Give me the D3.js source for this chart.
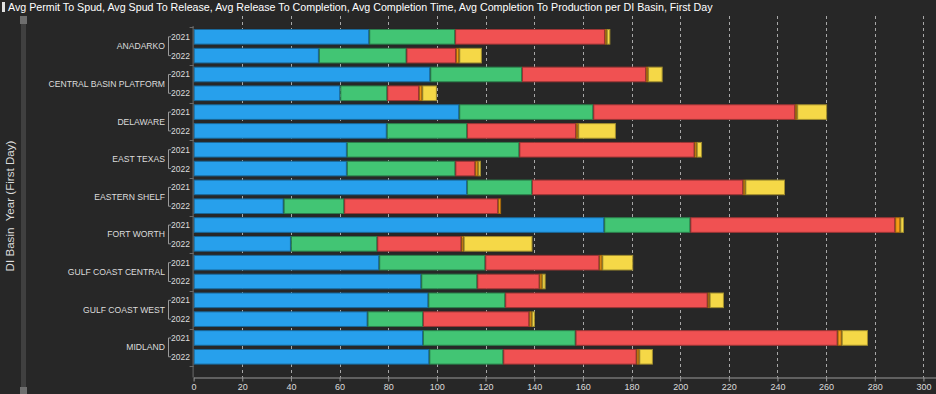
<!DOCTYPE html>
<html><head><meta charset="utf-8">
<script src="https://cdn.jsdelivr.net/npm/d3@7/dist/d3.min.js"></script>
<style>
html,body{margin:0;padding:0;background:#272727;}
svg{display:block;font-family:"Liberation Sans",Arial,sans-serif;}
</style></head>
<body><svg id="chart" width="936" height="394"></svg>
<script>
// ---- data ----
const basins = ["ANADARKO","CENTRAL BASIN PLATFORM","DELAWARE","EAST TEXAS","EASTERN SHELF","FORT WORTH","GULF COAST CENTRAL","GULF COAST WEST","MIDLAND"];
const years = ["2021","2022"];
const seriesNames = ["Avg Permit To Spud","Avg Spud To Release","Avg Release To Completion","Avg Completion Time","Avg Completion To Production"];
// values in row order: basin x year (2021, 2022)
const permitToSpud          = [72.2,51.5, 97.3,60.3, 109.2,79.4, 63.0,63.0, 112.4,37.0, 168.8,40.0, 76.3,93.6, 96.5,71.5, 94.3,96.9];
const spudToRelease         = [35.3,36.0, 37.7,19.3, 55.1,33.0, 70.9,44.6, 26.7,24.9, 35.4,35.5, 43.6,23.0, 31.6,22.8, 62.7,30.4];
const releaseToCompletion   = [61.6,20.4, 51.0,13.1, 83.0,44.8, 72.0,8.2, 86.8,63.3, 84.2,34.6, 46.9,25.6, 83.2,43.7, 107.7,54.8];
const completionTime        = [0.7,1.3, 0.8,1.3, 0.8,0.9, 0.9,1.2, 0.9,1.2, 2.1,0.9, 1.2,1.1, 0.8,1.0, 1.7,1.1];
const completionToProduction= [1.5,9.3, 6.0,6.0, 12.3,15.5, 2.2,1.1, 16.3,0.0, 1.5,28.3, 12.7,1.4, 5.9,1.3, 10.8,5.6];
const xTicks = [0,20,40,60,80,100,120,140,160,180,200,220,240,260,280,300];
const colors = ["#27a0ec","#42c574","#f05152","#f59c16","#f5d847"];
const title = "Avg Permit To Spud, Avg Spud To Release, Avg Release To Completion, Avg Completion Time, Avg Completion To Production per DI Basin, First Day";
const yTitle = "DI Basin  Year (First Day)";

(function(){
// ---- build table ----
const rows = [];
basins.forEach((b,i)=>years.forEach((yr,j)=>{
  const k=i*2+j;
  rows.push({key:b+"|"+yr, basin:b, year:yr,
    s0:permitToSpud[k], s1:spudToRelease[k], s2:releaseToCompletion[k], s3:completionTime[k], s4:completionToProduction[k]});
}));
const keys=["s0","s1","s2","s3","s4"];
const stacked = d3.stack().keys(keys)(rows);

const svg = d3.select("#chart");
const pLeft=193.6, pRight=935.6, pTop=27.4, pBottom=366.2, axisY=377.5;
const x = d3.scaleLinear().domain([0,305]).range([pLeft,pRight]);
const y = d3.scaleBand().domain(rows.map(r=>r.key)).range([pTop,pBottom]).paddingInner(0.17).paddingOuter(0.085);

// title
svg.append("rect").attr("x",2).attr("y",2).attr("width",3).attr("height",10).attr("fill","#e0e0e0");
svg.append("text").attr("x",8).attr("y",11).attr("fill","#ffffff").attr("font-size",10.7).text(title);

// scrollbar
svg.append("rect").attr("x",21).attr("y",16).attr("width",5).attr("height",378).attr("fill","#404040");
svg.append("rect").attr("x",20).attr("y",16).attr("width",7).attr("height",8).attr("fill","#6e6e6e");
svg.append("rect").attr("x",20).attr("y",387).attr("width",7).attr("height",7).attr("fill","#6e6e6e");

// y title
svg.append("text").attr("transform","translate(13.5,206) rotate(-90)").attr("text-anchor","middle")
  .attr("fill","#dcdcdc").attr("font-size",11.6).style("white-space","pre").text(yTitle);

// gridlines
svg.append("g").selectAll("line").data(xTicks.filter(t=>t>0)).join("line")
  .attr("x1",d=>Math.round(x(d))+0.5).attr("x2",d=>Math.round(x(d))+0.5)
  .attr("y1",16).attr("y2",axisY)
  .attr("stroke","#a8a8a8").attr("stroke-dasharray","3,3").attr("stroke-width",1);

// bars
svg.append("g").selectAll("g").data(stacked).join("g")
  .attr("fill",(d,i)=>colors[i])
  .attr("stroke",(d,i)=>d3.color(colors[i]).darker(1.2))
  .selectAll("rect").data(d=>d.filter(p=>p[1]-p[0]>0)).join("rect")
  .attr("x",d=>x(d[0])+0.5).attr("width",d=>Math.max(0,x(d[1])-x(d[0])-1))
  .attr("y",d=>y(d.data.key)+0.5).attr("height",y.bandwidth()-1)
  .attr("stroke-width",1);

// x axis
const xa = svg.append("g").attr("transform",`translate(0,${axisY})`)
  .call(d3.axisBottom(x).tickValues(xTicks).tickSize(4).tickSizeOuter(0).tickFormat(d3.format("d")));
xa.select(".domain").attr("stroke","#9a9a9a");
xa.selectAll(".tick line").attr("stroke","#9a9a9a");
xa.selectAll("text").attr("fill","#dcdcdc").attr("font-size",9).attr("font-family","Liberation Sans, Arial, sans-serif").attr("dy","0.6em");

// y axis line
svg.append("line").attr("x1",pLeft-0.5).attr("x2",pLeft-0.5).attr("y1",26).attr("y2",axisY).attr("stroke","#6a6a6a");
// group boundary ticks
const bounds = [pTop].concat(basins.map((b,i)=>{
  const k2 = rows[i*2+1].key; return y(k2)+y.bandwidth()+ (y.step()-y.bandwidth())/2; }));
svg.append("g").selectAll("line").data(bounds).join("line")
  .attr("x1",pLeft-4).attr("x2",pLeft).attr("y1",d=>Math.round(d)+0.5).attr("y2",d=>Math.round(d)+0.5).attr("stroke","#6a6a6a");

// year labels
svg.append("g").selectAll("text").data(rows).join("text")
  .attr("x",171).attr("y",d=>y(d.key)+y.bandwidth()/2).attr("dy","0.35em")
  .attr("fill","#dcdcdc").attr("font-size",8.5).text(d=>d.year);

// group labels + brackets
basins.forEach((b,i)=>{
  const y1 = y(rows[i*2].key)+y.bandwidth()/2, y2 = y(rows[i*2+1].key)+y.bandwidth()/2;
  svg.append("path").attr("d",`M171,${y1}H168.5V${y2}H171`).attr("fill","none").attr("stroke","#9a9a9a");
  svg.append("text").attr("x",165).attr("y",(y1+y2)/2).attr("dy","0.35em").attr("text-anchor","end")
    .attr("fill","#dcdcdc").attr("font-size",8.6).text(b);
});
})();
</script></body></html>
